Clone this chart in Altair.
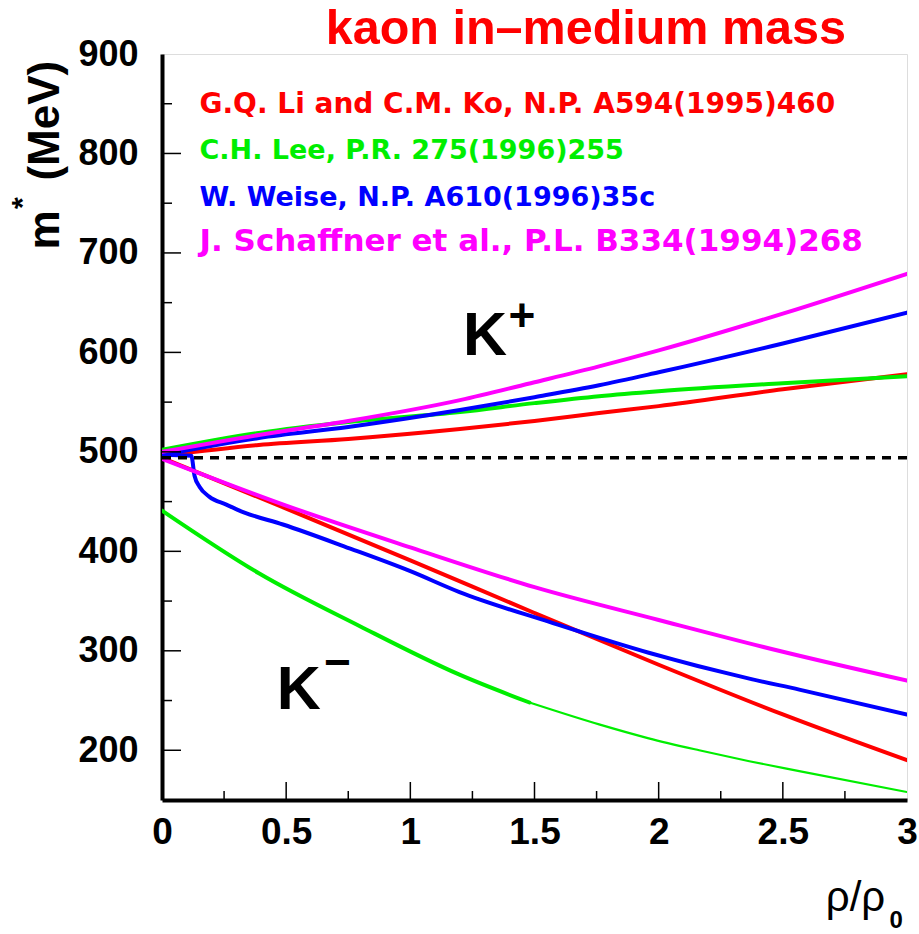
import altair as alt
import pandas as pd

FONT = "Liberation Sans"
LEG_FONT = "DejaVu Sans"

# ---------------- data ----------------
# G.Q. Li and C.M. Ko (red)
li_kp_x = [0, 0.39, 0.75, 1.2, 1.5, 1.76, 2.0, 2.5, 3.0]
li_kp_y = [496, 507, 513, 523, 531, 539, 546, 563, 578]
li_km_x = [0, 0.5, 1.0, 1.5, 2.0, 2.5, 3.0]
li_km_y = [494, 443, 391, 338, 286, 236, 190]
# C.H. Lee (green)
lee_kp_x = [0, 0.39, 0.75, 1.2, 1.5, 1.76, 2.0, 2.5, 3.0]
lee_kp_y = [502, 519, 530, 540, 549, 556, 561, 569, 576]
lee_km_x = [0, 0.39, 0.795, 1.198, 1.48]
lee_km_y = [441, 378, 325, 276, 248]
lee_km2_x = [1.48, 1.76, 1.96, 2.163, 2.365, 2.566, 3.0]
lee_km2_y = [248, 226, 212, 200, 189, 179, 158]
# W. Weise (blue)
weise_kp_x = [0, 0.39, 0.75, 1.2, 1.5, 1.76, 2.0, 2.5, 3.0]
weise_kp_y = [497, 514, 525, 542, 555, 567, 580, 609, 640]
weise_km_x = [0, 0.118, 0.131, 0.151, 0.19, 0.259, 0.312, 0.332, 0.487, 0.755,
              1.0, 1.198, 1.56, 1.96, 2.365, 2.566, 3.0]
weise_km_y = [497, 496, 476, 465, 455, 447, 441, 439, 427, 403,
              380, 359, 329, 298, 272, 261, 236]
# J. Schaffner et al. (magenta)
sch_kp_x = [0, 0.39, 0.75, 1.2, 1.5, 1.76, 2.0, 2.5, 3.0]
sch_kp_y = [500, 517, 531, 552, 570, 586, 602, 639, 679]
sch_km_x = [0, 0.5, 1.0, 1.5, 2.0, 2.5, 3.0]
sch_km_y = [493, 446, 404, 364, 331, 299, 270]

# vacuum kaon mass (dashed)
vac_x = [0, 3]
vac_y = [494, 494]

series_names = ["G.Q. Li and C.M. Ko, N.P. A594(1995)460",
                "C.H. Lee, P.R. 275(1996)255",
                "W. Weise, N.P. A610(1996)35c",
                "J. Schaffner et al., P.L. B334(1994)268"]
series_colors = ["#ff0000", "#00ee00", "#0000ff", "#ff00ff"]
legend_y = [841, 794, 747, 701.5]
legend_x = [0.151, 0.151, 0.151, 0.151]
legend_size = [28, 27, 27, 31]

x_labels = [0, 0.5, 1, 1.5, 2, 2.5, 3]
x_major = [0.5, 1, 1.5, 2, 2.5]
x_minor = [0.25, 0.75, 1.25, 1.75, 2.25, 2.75]
y_labels = [200, 300, 400, 500, 600, 700, 800, 900]
y_major = [200, 300, 400, 500, 600, 700, 800]
y_minor = [250, 350, 450, 550, 650, 750, 850]

# ---------------- tables ----------------
LW = 4
rows = []
def add(name, grp, xs, ys, w):
    for xv, yv in zip(xs, ys):
        rows.append(dict(x=xv, y=yv, series=name, grp=grp, w=w))

add(series_names[0], "li+", li_kp_x, li_kp_y, LW)
add(series_names[0], "li-", li_km_x, li_km_y, LW)
add(series_names[1], "lee+", lee_kp_x, lee_kp_y, LW)
add(series_names[1], "lee-a", lee_km_x, lee_km_y, LW)
add(series_names[1], "lee-b", lee_km2_x, lee_km2_y, 2.2)
add(series_names[2], "wei+", weise_kp_x, weise_kp_y, LW)
add(series_names[2], "wei-", weise_km_x, weise_km_y, LW)
add(series_names[3], "sch+", sch_kp_x, sch_kp_y, LW)
add(series_names[3], "sch-", sch_km_x, sch_km_y, LW)
curves = pd.DataFrame(rows)

color_scale = alt.Scale(domain=series_names, range=series_colors)
xs = alt.Scale(domain=[0, 3], nice=False, zero=False)
ys = alt.Scale(domain=[150, 900], nice=False, zero=False)

x_axis = alt.Axis(values=x_labels, format=".1~f", title=None, grid=False,
                  tickSize=0, labelPadding=14, labelFont=FONT, labelFontSize=37,
                  labelFontWeight="bold", labelColor="black", labelFlush=False,
                  labelOverlap=False, domainColor="black", domainWidth=4)
y_axis = alt.Axis(values=y_labels, title=None, grid=False, tickSize=0,
                  labelPadding=24, labelFont=FONT, labelFontSize=36,
                  labelFontWeight="bold", labelColor="black", labelOverlap=False,
                  domainColor="black", domainWidth=4)

lines = alt.Chart(curves).mark_line(clip=True, interpolate="monotone",
                                    strokeCap="round", strokeJoin="round").encode(
    x=alt.X("x:Q", scale=xs, axis=x_axis),
    y=alt.Y("y:Q", scale=ys, axis=y_axis),
    color=alt.Color("series:N", scale=color_scale, legend=None),
    detail="grp:N",
    strokeWidth=alt.StrokeWidth("w:Q", scale=None),
)

vac = alt.Chart(pd.DataFrame({"x": vac_x, "y": vac_y})).mark_line(
    color="black", strokeWidth=3.5, strokeDash=[9, 7]).encode(x="x:Q", y="y:Q")

H = 746
xmaj = alt.Chart(pd.DataFrame({"x": x_major})).mark_rule(color="black", strokeWidth=1.5).encode(
    x="x:Q", y=alt.value(H), y2=alt.value(H - 18))
xmin = alt.Chart(pd.DataFrame({"x": x_minor})).mark_rule(color="black", strokeWidth=1.5).encode(
    x="x:Q", y=alt.value(H), y2=alt.value(H - 9))
ymaj = alt.Chart(pd.DataFrame({"y": y_major})).mark_rule(color="black", strokeWidth=1.5).encode(
    y="y:Q", x=alt.value(0), x2=alt.value(19))
ymin = alt.Chart(pd.DataFrame({"y": y_minor})).mark_rule(color="black", strokeWidth=1.5).encode(
    y="y:Q", x=alt.value(0), x2=alt.value(10))

leg = alt.Chart(pd.DataFrame({"x": legend_x, "y": legend_y, "series": series_names,
                              "size": legend_size})).mark_text(
    font=LEG_FONT, fontWeight="bold", align="left", baseline="alphabetic").encode(
    x="x:Q", y="y:Q", text="series:N",
    size=alt.Size("size:Q", scale=None),
    color=alt.Color("series:N", scale=color_scale, legend=None))

def txt(xv, yv, s, size, weight="bold", color="black", align="left",
        baseline="alphabetic", angle=0, font=FONT):
    return alt.Chart(pd.DataFrame({"x": [xv], "y": [yv], "t": [s]})).mark_text(
        font=font, fontSize=size, fontWeight=weight, color=color, align=align,
        baseline=baseline, angle=angle).encode(x="x:Q", y="y:Q", text="t:N")

title = txt(1.707, 909.8, "kaon in\u2013medium mass", 48.5, color="#ff0000", align="center")
kp = txt(1.212, 597, "K", 61)
kp_sup = txt(1.395, 636, "+", 46, baseline="middle")
km = txt(0.462, 241, "K", 61)
km_sup = txt(0.652, 287, "\u2212", 46, baseline="middle")
ytit1 = txt(-0.415, 833, "(MeV)", 44, align="center", angle=270)
ytit2 = txt(-0.415, 723, "m", 44, align="center", angle=270)
ytit3 = txt(-0.56, 750, "*", 30, align="center", baseline="middle", angle=270)
xtit1 = txt(2.673, 38, "\u03c1/\u03c1", 42, weight="normal")
xtit2 = txt(2.93, 21.7, "0", 24)

chart = alt.layer(lines, vac, xmaj, xmin, ymaj, ymin, leg, title, kp, kp_sup, km, km_sup,
                  ytit1, ytit2, ytit3, xtit1, xtit2).properties(
    width=745, height=H,
    padding={"left": 162, "top": 54, "right": 12, "bottom": 134},
    autosize="none",
).configure_view(stroke="black", strokeWidth=3).configure(background="white")

chart.save("out.html", embed_options={"renderer": "svg", "actions": False})
